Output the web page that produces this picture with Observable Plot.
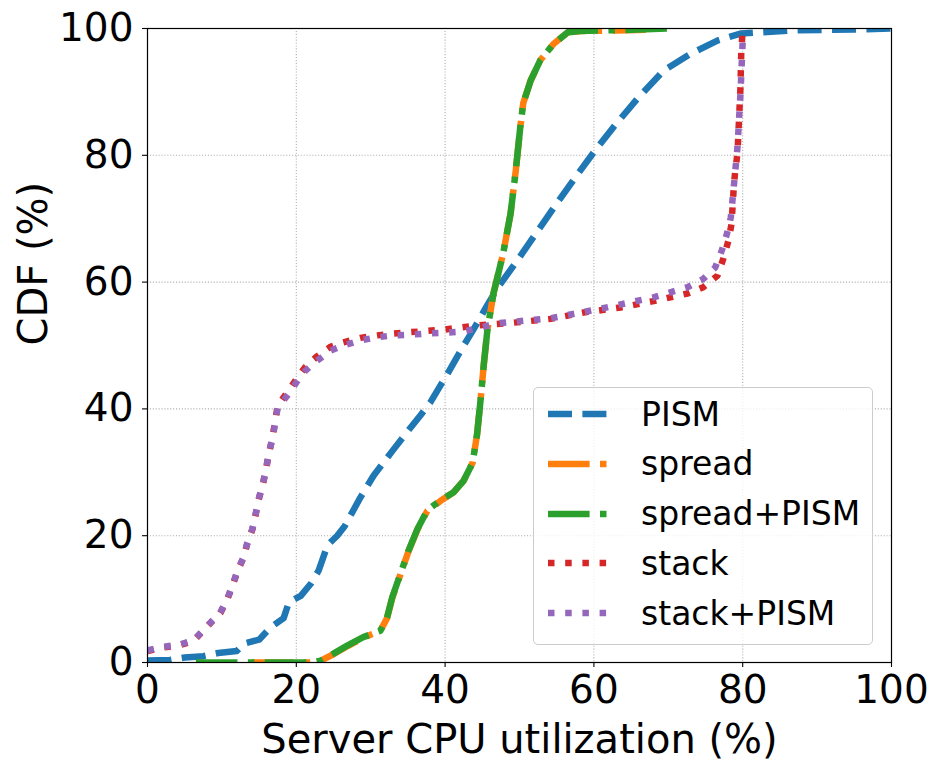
<!DOCTYPE html>
<html><head><meta charset="utf-8">
<script src="https://cdn.jsdelivr.net/npm/d3@7"></script>
<script src="https://cdn.jsdelivr.net/npm/@observablehq/plot@0.6"></script>
<style>
body{margin:0;background:#fff;}
#wrap{position:relative;width:941px;height:772px;font-family:"DejaVu Sans",sans-serif;}
#wrap svg{display:block;}
#legend{position:absolute;left:533px;top:387px;width:340px;height:258px;border:1.2px solid #cccccc;border-radius:5px;background:rgba(255,255,255,0.8);box-sizing:border-box;}
.row{position:absolute;left:0;height:50px;display:flex;align-items:center;white-space:nowrap;}
.row svg{margin-left:13px;}
.row span{position:absolute;left:107px;font-size:33px;color:#000;}
</style>
</head><body>
<div id="wrap"><div id="chart"></div><div id="legend"></div></div>
<script>
// ---- data ----
const xTicks = [0, 20, 40, 60, 80, 100];
const yTicks = [0, 20, 40, 60, 80, 100];
const seriesNames = ["PISM", "spread", "spread+PISM", "stack", "stack+PISM"];
const seriesColors = ["#1f77b4", "#ff7f0e", "#2ca02c", "#d62728", "#9467bd"];

const pismX = [0,3,5,7.5,9.5,12,13,15,16.5,18.3,19,20.6,22,23,24.2,25.5,26.5,28.6,30.4,33,35,36.7,38,40.3,42.5,43.8,45.5,47,49.7,52.4,55,57.8,60,62.6,65.9,69.4,73,76.6,79.7,82.4,86.8,95,100];
const pismY = [0.3,0.4,0.8,1.0,1.5,1.8,3,3.6,5.5,7,9.5,10.5,12.5,14.5,18.5,20,21.5,26,29.5,33.5,36.5,39,41,45.5,50,52.5,56,59,63.4,68,72.4,77,80.5,84.4,89,93.4,96,98.1,99.2,99.4,99.7,99.85,100];

const spreadX = [14,22,23.3,25,26.9,29,31.3,32.2,32.9,34,35.1,36.3,37.6,39.4,41.1,42.5,43.7,44.3,44.8,45.2,45.7,46.5,47.8,48.8,49.5,50.1,50.5,51.5,52.8,54.6,56.5,58.2,63,67];
const spreadY = [0,0,0.3,1.3,2.6,3.9,5,7,10.2,13.9,17.6,21,23.9,25.5,26.8,28.7,31.5,36,41.8,47,52.6,58.2,64.5,70.8,77.6,84.4,88.2,91.8,95,97.6,99.4,99.6,99.7,99.8];

const spreadPismX = [6.5,22,23.3,25,26.9,29,31.3,32.2,32.9,34,35.1,36.3,37.6,39.4,41.1,42.5,43.7,44.3,44.8,45.2,45.7,46.5,47.8,48.8,49.5,50.1,50.5,51.5,52.8,54.6,56.5,58.2,65,70.3];
const spreadPismY = [0,0,0.3,1.4,2.7,4,5,7.1,10.3,14,17.7,21.1,24,25.6,26.8,28.7,31.5,36,41.8,47,52.6,58.2,64.5,70.8,77.6,84.4,88.2,91.8,95,97.6,99.4,99.6,99.8,100];

const stackX = [0,1.7,4.2,6.2,7.4,8.7,9.8,10.8,11.4,12.1,12.9,13.4,14.1,14.5,14.9,15.5,15.9,16.3,16.8,17.5,19,20.2,21.2,22.8,24.6,26.3,28.6,30.9,33.1,35.3,37.6,39.8,43.8,49.2,54.2,58.6,63.6,68,72.6,74.7,76.6,77.4,78.1,78.5,78.8,79,79.3,79.5,79.7,79.8,80];
const stackY = [1.8,2.3,2.7,3.4,4.9,6.5,7.8,10.2,12,14.4,16.5,18.7,21,23.1,25.5,28.1,30.2,32.9,35.5,40.5,43,45,46.6,48.3,49.8,50.5,51.2,51.6,51.9,52.1,52.3,52.5,53.1,53.6,54.2,55.2,56,57,58.2,59.2,61,63.7,66.6,69.2,75,77.6,80.3,85.5,90.7,96,100];

const stackPismX = [0,1.7,4.2,6.2,7.4,8.7,9.8,10.8,11.4,12.1,12.9,13.4,14.1,14.5,14.9,15.5,15.9,16.3,16.8,17.5,19,20.2,21.2,22.8,24.6,26.3,28.6,30.9,33.1,35.3,37.6,39.8,42.5,47,54.2,60.9,68,72.6,74.7,76.3,77.2,77.9,78.4,78.8,79.3,79.5,79.7,80,80];
const stackPismY = [1.9,2.4,2.8,3.5,5,6.6,7.9,10.3,12.1,14.5,16.6,18.8,21.1,23.2,25.6,28.2,30.3,33,35.3,40.2,42.4,44.5,46,47.6,49.2,50,50.8,51.3,51.6,51.7,51.9,52,52.2,53.5,54.3,55.8,57.6,59.2,60.5,62.3,65,67.7,70.2,75,81.3,85.5,89.7,98,99.5];

// ---- styling ----
const LW = 6.5;
const dashes = ["24,10.4", "41.6,10.4,6.5,10.4", "41.6,10.4,6.5,10.4", "6.5,10.7", "6.5,10.7"];
const xs = [pismX, spreadX, spreadPismX, stackX, stackPismX];
const ys = [pismY, spreadY, spreadPismY, stackY, stackPismY];
const tables = xs.map((X, i) => X.map((x, j) => ({x, y: ys[i][j]})));

const lineMarks = tables.map((t, i) => Plot.line(t, {
  x: "x", y: "y", stroke: seriesColors[i], strokeWidth: LW,
  strokeDasharray: dashes[i], strokeLinecap: "butt", strokeLinejoin: "round", clip: true
}));

const chart = Plot.plot({
  width: 941, height: 772,
  marginLeft: 147, marginRight: 50, marginTop: 28, marginBottom: 110,
  style: {fontFamily: "'DejaVu Sans', sans-serif", background: "white", color: "black", overflow: "visible"},
  x: {domain: [0, 100]},
  y: {domain: [0, 100]},
  marks: [
    Plot.gridX(xTicks.slice(1, -1), {stroke: "#b0b0b0", strokeOpacity: 1, strokeWidth: 1.1, strokeDasharray: "1.1,1.8"}),
    Plot.gridY(yTicks.slice(1, -1), {stroke: "#b0b0b0", strokeOpacity: 1, strokeWidth: 1.1, strokeDasharray: "1.1,1.8"}),
    ...lineMarks,
    Plot.frame({stroke: "black", strokeWidth: 1.2}),
    Plot.axisX(xTicks, {tickSize: 5, tickPadding: 8, fontSize: 39, label: null, tickFormat: d => String(d), strokeWidth: 1.1}),
    Plot.axisY(yTicks, {tickSize: 5, tickPadding: 9, fontSize: 39, label: null, tickFormat: d => String(d), strokeWidth: 1.1}),
    Plot.text(["Server CPU utilization (%)"], {text: d => d, frameAnchor: "bottom", dy: 90, lineAnchor: "bottom", fontSize: 40}),
    Plot.text(["CDF (%)"], {text: d => d, frameAnchor: "left", dx: -101, rotate: -90, lineAnchor: "bottom", fontSize: 40})
  ]
});
document.getElementById("chart").appendChild(chart);

// ---- legend ----
const legend = document.getElementById("legend");
seriesNames.forEach((name, i) => {
  const row = document.createElement("div");
  row.className = "row";
  row.style.top = (1 + i * 49.8) + "px";
  row.innerHTML = `<svg width="62" height="10"><line x1="1" y1="5" x2="61" y2="5" stroke="${seriesColors[i]}" stroke-width="${LW}" stroke-dasharray="${dashes[i]}" stroke-linecap="butt"/></svg><span>${name}</span>`;
  legend.appendChild(row);
});
</script>
</body></html>
